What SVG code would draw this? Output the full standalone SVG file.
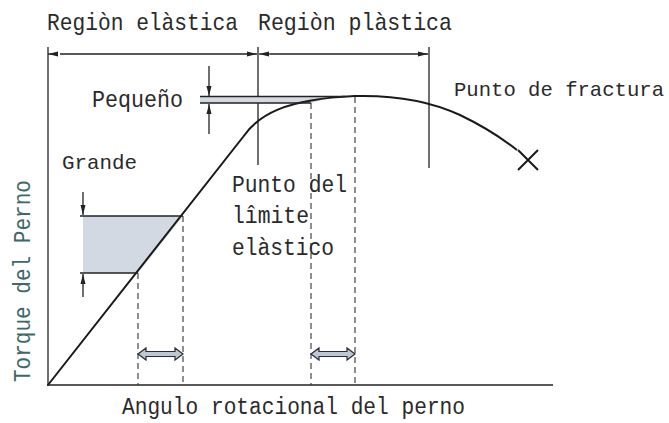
<svg xmlns="http://www.w3.org/2000/svg" width="669" height="423" viewBox="0 0 669 423">
<defs>
<marker id="ah" markerWidth="10" markerHeight="6" refX="10" refY="3" orient="auto" markerUnits="userSpaceOnUse">
<path d="M0,0.5 L10,3 L0,5.5 z" fill="#222"/>
</marker>
<style>
.ln{stroke:#222;stroke-width:1.3;fill:none}
.cv{stroke:#1a1a1a;stroke-width:2;fill:none}
.ds{stroke:#333;stroke-width:1.1;stroke-dasharray:6,4;fill:none}
.sh{fill:#d3d9e2;stroke:none}
.t{font-family:"Liberation Mono","DejaVu Sans Mono",monospace;fill:#2a2a2a}
.dbl{fill:#bcc8d4;stroke:#2a2a3a;stroke-width:1.2}
</style>
</defs>
<rect width="669" height="423" fill="#fff"/>

<g id="axes">
<line class="ln" x1="48" y1="47" x2="48" y2="386"/>
<line class="ln" x1="47" y1="385" x2="553" y2="385"/>
<line class="ln" x1="258" y1="47" x2="258" y2="165"/>
<line class="ln" x1="429" y1="47" x2="429" y2="168"/>
</g>

<g id="shading">
<polygon class="sh" points="83,216 183,216 138,273 83,273"/>
<polygon class="sh" points="200,96.5 345,96.5 330,98 311,103 200,103"/>
</g>

<g id="curve">
<path class="cv" d="M48,385 L243,137 C258,115 285,99 355,96 C395,95 430,101 460,115 C485,127 503,139 517,150"/>
<path class="cv" d="M518,150 L538,170 M538,150 L518,170" stroke-width="1.8"/>
</g>

<g id="connectors">
<line class="ln" x1="53" y1="54" x2="48" y2="54" marker-end="url(#ah)"/>
<line class="ln" x1="60" y1="54" x2="257" y2="54" marker-end="url(#ah)"/>
<line class="ln" x1="270" y1="54" x2="259" y2="54" marker-end="url(#ah)"/>
<line class="ln" x1="270" y1="54" x2="428" y2="54" marker-end="url(#ah)"/>
<line class="ln" x1="209" y1="66" x2="209" y2="96" marker-end="url(#ah)"/>
<line class="ln" x1="209" y1="134" x2="209" y2="104" marker-end="url(#ah)"/>
<line class="ln" x1="200" y1="96.5" x2="345" y2="96.5"/>
<line class="ln" x1="200" y1="103" x2="311" y2="103"/>
<line class="ln" x1="83" y1="192" x2="83" y2="215" marker-end="url(#ah)"/>
<line class="ln" x1="83" y1="297" x2="83" y2="274" marker-end="url(#ah)"/>
<line class="ln" x1="80" y1="216" x2="183" y2="216"/>
<line class="ln" x1="80" y1="273" x2="138" y2="273"/>
<line class="ds" x1="138" y1="273" x2="138" y2="385"/>
<line class="ds" x1="183" y1="216" x2="183" y2="385"/>
<line class="ds" x1="311" y1="103" x2="311" y2="385"/>
<line class="ds" x1="355" y1="97" x2="355" y2="385"/>
<polygon class="dbl" points="138,354 146,348 146,351.5 175,351.5 175,348 183,354 175,360 175,356.5 146,356.5 146,360"/>
<polygon class="dbl" points="311,354 319,348 319,351.5 347,351.5 347,348 355,354 347,360 347,356.5 319,356.5 319,360"/>
</g>

<g id="labels">
<text class="t" x="47" y="30" font-size="24" textLength="191" lengthAdjust="spacingAndGlyphs">Regiòn elàstica</text>
<text class="t" x="258" y="30" font-size="24" textLength="194" lengthAdjust="spacingAndGlyphs">Regiòn plàstica</text>
<text class="t" x="92" y="107" font-size="23" textLength="91" lengthAdjust="spacingAndGlyphs">Pequeño</text>
<text class="t" x="454" y="96" font-size="21" textLength="210" lengthAdjust="spacingAndGlyphs">Punto de fractura</text>
<text class="t" x="62" y="169" font-size="21" textLength="75" lengthAdjust="spacingAndGlyphs">Grande</text>
<text class="t" x="232" y="192" font-size="23" textLength="115" lengthAdjust="spacingAndGlyphs">Punto del</text>
<text class="t" x="232" y="223" font-size="23" textLength="77" lengthAdjust="spacingAndGlyphs">lîmite</text>
<text class="t" x="232" y="255" font-size="23" textLength="102" lengthAdjust="spacingAndGlyphs">elàstico</text>
<text class="t" x="122" y="414" font-size="23" textLength="343" lengthAdjust="spacingAndGlyphs">Angulo rotacional del perno</text>
<text class="t" transform="translate(30,382) rotate(-90)" x="0" y="0" font-size="23" textLength="202" lengthAdjust="spacingAndGlyphs" style="fill:#3d6a68">Torque del Perno</text>
</g>
</svg>
